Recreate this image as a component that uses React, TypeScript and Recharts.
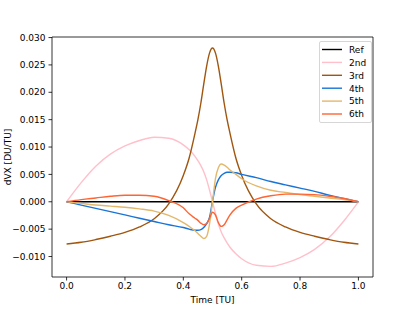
import { LineChart, Line, XAxis, YAxis, ReferenceArea, Label } from 'recharts';

const times = [0, 0.05, 0.1, 0.15, 0.2, 0.25, 0.3, 0.35, 0.4, 0.42, 0.44, 0.45, 0.46, 0.47, 0.48, 0.49, 0.5, 0.51, 0.52, 0.53, 0.54, 0.55, 0.56, 0.58, 0.6, 0.65, 0.7, 0.75, 0.8, 0.85, 0.9, 0.95, 1];

const ref = times.map(() => 0);
const second = [0, 0.0035, 0.0065, 0.0087, 0.0102, 0.0112, 0.0118, 0.0116, 0.0104, 0.0095, 0.0083, 0.0075, 0.0066, 0.0055, 0.004, 0.0021, 0, -0.0021, -0.004, -0.0055, -0.0066, -0.0075, -0.0083, -0.0095, -0.0104, -0.0116, -0.0118, -0.0112, -0.0102, -0.0087, -0.0065, -0.0035, 0];
const third = [-0.0077, -0.0074, -0.0069, -0.0063, -0.0056, -0.0046, -0.0031, -0.0004, 0.0048, 0.008, 0.0125, 0.015, 0.018, 0.0215, 0.0248, 0.0272, 0.0281, 0.0272, 0.0248, 0.0215, 0.018, 0.015, 0.0125, 0.008, 0.0048, -0.0004, -0.0031, -0.0046, -0.0056, -0.0063, -0.0069, -0.0074, -0.0077];
const fourth = [0, -0.0006, -0.0012, -0.0018, -0.0024, -0.003, -0.0036, -0.0042, -0.0047, -0.005, -0.0052, -0.0052, -0.0051, -0.0047, -0.004, -0.0028, 0.0001, 0.0026, 0.004, 0.0048, 0.0052, 0.0054, 0.0054, 0.0053, 0.005, 0.0044, 0.0037, 0.0031, 0.0025, 0.0019, 0.0012, 0.0006, 0];
const fifth = [0, -0.0003, -0.0006, -0.0008, -0.001, -0.0013, -0.0017, -0.0025, -0.0038, -0.0045, -0.0053, -0.0058, -0.0063, -0.0067, -0.0063, -0.004, 0, 0.0042, 0.0062, 0.0069, 0.0067, 0.0063, 0.0058, 0.005, 0.0042, 0.0029, 0.0021, 0.0017, 0.0013, 0.001, 0.0007, 0.0004, 0];
const sixth = [0, 0.0004, 0.0007, 0.001, 0.0012, 0.0012, 0.001, 0.0002, -0.0011, -0.0022, -0.003, -0.0034, -0.0039, -0.0042, -0.004, -0.003, -0.0019, -0.0024, -0.0038, -0.0045, -0.0042, -0.0033, -0.0024, -0.0012, -0.0006, 0.0005, 0.0011, 0.0014, 0.0014, 0.0013, 0.001, 0.0006, 0];

const xTicks = [0, 0.2, 0.4, 0.6, 0.8, 1.0];
const yTicks = [-0.01, -0.005, 0, 0.005, 0.01, 0.015, 0.02, 0.025, 0.03];

const series = [
  { key: 'ref', name: 'Ref', color: '#000000' },
  { key: 'second', name: '2nd', color: '#ffc0cb' },
  { key: 'third', name: '3rd', color: '#a0560f' },
  { key: 'fourth', name: '4th', color: '#1874d6' },
  { key: 'fifth', name: '5th', color: '#e3b86c' },
  { key: 'sixth', name: '6th', color: '#ff6433' },
];

const data = times.map((t, i) => ({
  t,
  ref: ref[i],
  second: second[i],
  third: third[i],
  fourth: fourth[i],
  fifth: fifth[i],
  sixth: sixth[i],
}));

const X_DOMAIN: [number, number] = [-0.05, 1.05];
const Y_DOMAIN: [number, number] = [-0.01374, 0.0301];
const font = 'DejaVu Sans, sans-serif';
const tickStyle = { fill: '#000', fontSize: 9, fontFamily: font };

const fmtY = (v: number) => (v < 0 ? '\u2212' + Math.abs(v).toFixed(3) : v.toFixed(3));

// legend drawn as an overlay so it doesn't eat into the plot area
const LegendBox = () => (
  <div
    style={{
      position: 'absolute',
      left: 319,
      top: 41,
      width: 53,
      height: 82,
      boxSizing: 'border-box',
      border: '1px solid #d6d6d6',
      borderRadius: 2,
      background: 'rgba(255,255,255,0.8)',
      fontFamily: font,
      fontSize: 9,
    }}
  >
    <svg width={51} height={80} style={{ position: 'absolute', left: 0, top: 0 }}>
      {series.map((s, i) => {
        const y = 7.5 + i * 12.9;
        return (
          <g key={s.key}>
            <line x1={2} x2={22} y1={y} y2={y} stroke={s.color} strokeWidth={1.4} />
            <text x={29} y={y + 3.3} fontSize={9} fontFamily={font} fill="#000">
              {s.name}
            </text>
          </g>
        );
      })}
    </svg>
  </div>
);

export default function App() {
  return (
    <div style={{ position: 'absolute', left: 0, top: 0, width: 415, height: 311, background: '#fff' }}>
      <LineChart width={415} height={311} data={data} margin={{ top: 37, right: 42, left: 0, bottom: 0 }}>
        <XAxis
          dataKey="t"
          type="number"
          domain={X_DOMAIN}
          ticks={xTicks}
          allowDataOverflow
          height={34}
          tick={tickStyle}
          tickSize={3.5}
          tickMargin={2}
          tickFormatter={(v: number) => v.toFixed(1)}
          axisLine={false}
          tickLine={{ stroke: '#000', strokeWidth: 0.8 }}
        >
          <Label value="Time [TU]" position="insideBottom" offset={8} style={{ fill: '#000', fontSize: 9, fontFamily: font }} />
        </XAxis>
        <YAxis
          type="number"
          domain={Y_DOMAIN}
          ticks={yTicks}
          allowDataOverflow
          width={52}
          tick={tickStyle}
          tickSize={3.5}
          tickMargin={3}
          tickFormatter={fmtY}
          axisLine={false}
          tickLine={{ stroke: '#000', strokeWidth: 0.8 }}
        >
          <Label
            value="dVX [DU/TU]"
            angle={-90}
            position="insideLeft"
            offset={8}
            style={{ fill: '#000', fontSize: 9, fontFamily: font, textAnchor: 'middle' }}
          />
        </YAxis>
        {series.map((s) => (
          <Line
            key={s.key}
            dataKey={s.key}
            name={s.name}
            type="monotone"
            stroke={s.color}
            strokeWidth={1.4}
            dot={false}
            activeDot={false}
            isAnimationActive={false}
          />
        ))}
        <ReferenceArea
          x1={X_DOMAIN[0]}
          x2={X_DOMAIN[1]}
          y1={Y_DOMAIN[0]}
          y2={Y_DOMAIN[1]}
          fill="none"
          fillOpacity={0}
          stroke="#000"
          strokeWidth={0.8}
          ifOverflow="visible"
        />
      </LineChart>
      <LegendBox />
    </div>
  );
}
